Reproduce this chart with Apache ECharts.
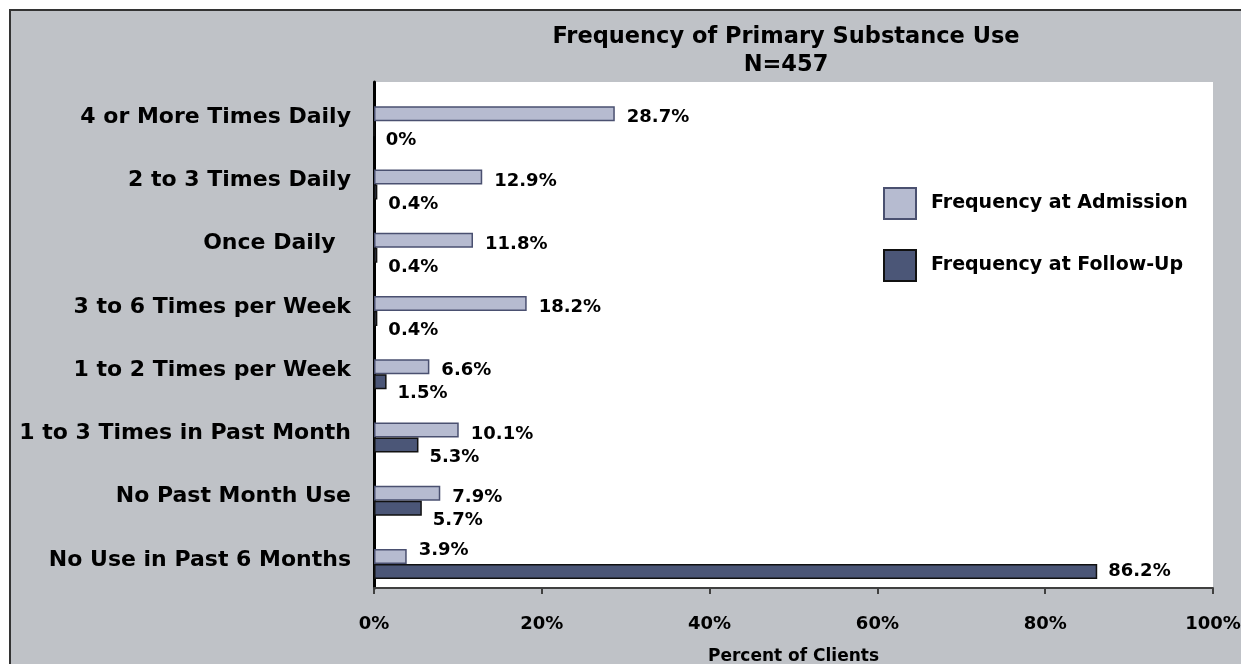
<!DOCTYPE html>
<html>
<head>
<meta charset="utf-8">
<script src="https://cdn.jsdelivr.net/npm/echarts@6/dist/echarts.min.js"></script>
<style>
  html, body { margin: 0; padding: 0; background: #ffffff; overflow: hidden; width: 1241px; height: 664px; }
  #frame {
    position: absolute; left: 9px; top: 9px; right: 0; bottom: 0; box-sizing: border-box;
    background: #bfc2c7; border-left: 2px solid #333333; border-top: 2px solid #333333;
  }
  #chart { position: absolute; left: 0; top: 0; width: 1241px; height: 664px; }
</style>
</head>
<body>
<div id="frame"></div>
<div id="chart"></div>
<script>
const categories = ['4 or More Times Daily', '2 to 3 Times Daily', 'Once Daily  ',
  '3 to 6 Times per Week', '1 to 2 Times per Week', '1 to 3 Times in Past Month',
  'No Past Month Use', 'No Use in Past 6 Months'];
const admission = [28.7, 12.9, 11.8, 18.2, 6.6, 10.1, 7.9, 3.9];
const followUp = [0, 0.4, 0.4, 0.4, 1.5, 5.3, 5.7, 86.2];
const xTicks = [0, 20, 40, 60, 80, 100];

const FONT = '"DejaVu Sans", Arial, sans-serif';
let chart = echarts.init(document.getElementById('chart'));

// admission labels lift a bit when the follow-up bar below runs long
let admData = admission.map(function (v, i) {
  return { value: v, label: { offset: [0, followUp[i] > 50 ? -6 : 4] } };
});
// follow-up labels sit below the bar end, except the long one
let followData = followUp.map(function (v) {
  return { value: v, label: { offset: [0, v > 50 ? 0 : 12] } };
});

let option = {
  backgroundColor: 'transparent',
  animation: false,
  title: {
    text: 'Frequency of Primary Substance Use\nN=457',
    left: 781,
    top: 18,
    textAlign: 'center',
    textStyle: { fontFamily: FONT, fontWeight: 'bold', fontSize: 22.5, lineHeight: 28, color: '#000' }
  },
  legend: {
    orient: 'vertical',
    left: 883,
    top: 187,
    padding: 0,
    itemWidth: 32,
    itemHeight: 31,
    itemGap: 29,
    icon: 'rect',
    data: ['Frequency at Admission', 'Frequency at Follow-Up'],
    textStyle: { fontFamily: FONT, fontWeight: 'bold', fontSize: 19, color: '#000', padding: [0, 0, 0, 10] }
  },
  grid: {
    left: 374, right: 28, top: 82, bottom: 76,
    outerBoundsMode: 'none',
    show: true, backgroundColor: '#ffffff', borderWidth: 0
  },
  xAxis: {
    type: 'value',
    min: xTicks[0],
    max: xTicks[xTicks.length - 1],
    interval: 20,
    splitLine: { show: false },
    axisLine: { show: true, lineStyle: { color: '#404040', width: 2 } },
    axisTick: { show: true, length: 6, lineStyle: { color: '#404040', width: 2 } },
    axisLabel: {
      margin: 27,
      formatter: '{value}%',
      fontFamily: FONT, fontWeight: 'bold', fontSize: 18, color: '#000'
    },
    name: 'Percent of Clients',
    nameLocation: 'middle',
    nameGap: 60,
    nameTextStyle: { fontFamily: FONT, fontWeight: 'bold', fontSize: 17, color: '#000' }
  },
  yAxis: {
    type: 'category',
    inverse: true,
    data: categories,
    axisLine: { show: true, lineStyle: { color: '#000', width: 3 } },
    axisTick: { show: false },
    axisLabel: {
      margin: 23,
      formatter: function (v) { return '{c|' + v + '}'; },
      rich: {
        c: { padding: [7, 0, 0, 0], fontFamily: FONT, fontWeight: 'bold', fontSize: 22, color: '#000' }
      },
      fontFamily: FONT, fontWeight: 'bold', fontSize: 22, color: '#000'
    }
  },
  series: [
    {
      // spacer so the visible pair sits a little below the category centre
      name: 'spacer',
      type: 'bar',
      barWidth: 15,
      barGap: '0%',
      silent: true,
      data: admission.map(function () { return 0; }),
      itemStyle: { color: 'rgba(0,0,0,0)', borderWidth: 0 },
      label: { show: false }
    },
    {
      name: 'Frequency at Admission',
      type: 'bar',
      barWidth: 15,
      barGap: '0%',
      data: admData,
      itemStyle: { color: '#b6bbd0', borderColor: '#4a5070', borderWidth: 1.5 },
      label: {
        show: true, position: 'right', distance: 12,
        formatter: '{c}%',
        fontFamily: FONT, fontWeight: 'bold', fontSize: 18, color: '#000'
      }
    },
    {
      name: 'Frequency at Follow-Up',
      type: 'bar',
      barWidth: 15,
      barGap: '0%',
      data: followData,
      itemStyle: { color: '#4b5677', borderColor: '#111', borderWidth: 1.5 },
      label: {
        show: true, position: 'right', distance: 11,
        formatter: '{c}%',
        fontFamily: FONT, fontWeight: 'bold', fontSize: 18, color: '#000'
      }
    }
  ]
};
chart.setOption(option);
</script>
</body>
</html>
